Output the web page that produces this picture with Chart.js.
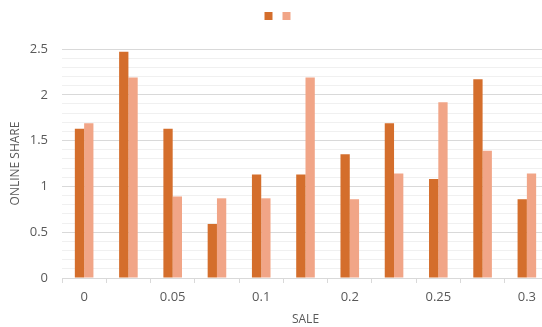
<!DOCTYPE html>
<html>
<head>
<meta charset="utf-8">
<script src="https://cdn.jsdelivr.net/npm/chart.js@4/dist/chart.umd.min.js"></script>
<style>
    html, body { margin: 0; padding: 0; overflow: hidden; background: #fff; }
    #wrap { position: absolute; left: 0; top: 0; width: 552px; height: 327px; }
</style>
</head>
<body>
<div id="wrap"><canvas id="saleChart"></canvas></div>
<script>
// categories on the SALE axis (only every other one carries a label)
const saleLabels = ['0', '', '0.05', '', '0.1', '', '0.2', '', '0.25', '', '0.3'];

// two series, no names shown in the legend
const darkValues = [1.63, 2.47, 1.63, 0.59, 1.13, 1.13, 1.35, 1.69, 1.08, 2.17, 0.86];
const lightValues = [1.69, 2.19, 0.89, 0.87, 0.87, 2.19, 0.86, 1.14, 1.92, 1.39, 1.14];

const yMajorLabels = ['0', '0.5', '1', '1.5', '2', '2.5'];

const tickColor = '#595959';
const font = "'Open Sans', 'Liberation Sans', sans-serif";

// extra room between the legend and the plot, and a small nudge to the right
const legendMargin = {
    id: 'legendMargin',
    beforeInit(chart) {
        const fit = chart.legend.fit;
        chart.legend.fit = function() {
            fit.bind(chart.legend)();
            this.height += 19;
        };
    },
    afterLayout(chart) {
        chart.legend.left += 5;
        chart.legend.right += 5;
    }
};

document.addEventListener("DOMContentLoaded", () => {

    const ctx = document.getElementById('saleChart');

    const chart = new Chart(ctx, {
        type: 'bar',
        data: {
            labels: saleLabels,
            datasets: [{
                label: '',
                data: darkValues,
                backgroundColor: '#D46E2C',
                borderWidth: 0
            }, {
                label: '',
                data: lightValues,
                backgroundColor: '#F1A587',
                borderWidth: 0
            }]
        },
        plugins: [legendMargin],
        options: {
            responsive: true,
            maintainAspectRatio: false,
            animation: false,
            layout: {
                padding: { left: 0, right: 3, top: 6, bottom: 0 }
            },
            categoryPercentage: 0.42,
            barPercentage: 1,
            plugins: {
                tooltip: { enabled: false },
                legend: {
                    display: true,
                    position: 'top',
                    labels: {
                        boxWidth: 8,
                        boxHeight: 8,
                        padding: 6,
                        font: { size: 8, family: font }
                    }
                }
            },
            scales: {
                x: {
                    grid: {
                        drawOnChartArea: false,
                        drawTicks: true,
                        tickLength: 5,
                        color: '#d9d9d9'
                    },
                    border: { color: '#d9d9d9' },
                    ticks: {
                        autoSkip: false,
                        maxRotation: 0,
                        color: tickColor,
                        padding: 6,
                        font: { size: 13, family: font }
                    },
                    title: {
                        display: true,
                        text: 'SALE',
                        color: tickColor,
                        padding: { top: 3, bottom: 0 },
                        font: { size: 12, family: font }
                    },
                    afterFit: function(scale) {
                        scale.height = 49;
                    }
                },
                y: {
                    min: 0,
                    max: 2.5,
                    ticks: {
                        stepSize: 0.1,
                        autoSkip: false,
                        color: tickColor,
                        padding: 14,
                        font: { size: 13, family: font },
                        callback: function(value, index) {
                            return (index % 5 === 0) ? yMajorLabels[index / 5] : '';
                        }
                    },
                    grid: {
                        drawTicks: false,
                        color: function(c) {
                            return (c.index % 5 === 0) ? '#d9d9d9' : '#f0f0f0';
                        }
                    },
                    border: { display: false },
                    title: {
                        display: true,
                        text: 'ONLINE SHARE',
                        color: tickColor,
                        padding: { top: 8, bottom: 0 },
                        font: { size: 12, family: font }
                    },
                    afterFit: function(scale) {
                        scale.width = 62;
                    }
                }
            }
        }
    });
});
</script>
</body>
</html>
